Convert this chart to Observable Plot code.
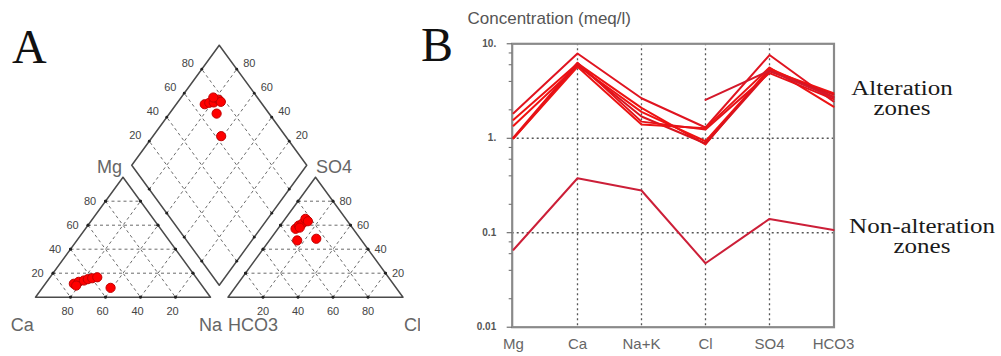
<!DOCTYPE html>
<html><head><meta charset="utf-8">
<script src="https://cdn.jsdelivr.net/npm/d3@7"></script>
<script src="https://cdn.jsdelivr.net/npm/@observablehq/plot@0.6"></script>
<style>
html,body{margin:0;padding:0;background:#fff;}
#wrap{position:relative;width:1001px;height:356px;overflow:hidden;font-family:Arial,"Liberation Sans",sans-serif;}
#pA{position:absolute;left:0;top:0;}
#pB{position:absolute;left:420px;top:0;}
.panel{position:absolute;font-family:"Liberation Serif","Times New Roman",serif;font-size:48px;line-height:48px;color:#111;}
.note{position:absolute;width:200px;text-align:center;font-family:"Liberation Serif","Times New Roman",serif;font-size:20px;line-height:20px;color:#1a1a1a;transform:scaleX(1.25);transform-origin:50% 0;white-space:nowrap;}
</style></head><body>
<div id="wrap">
  <div id="pA"></div>
  <div id="pB"></div>
  <div class="panel" style="left:12px;top:23px">A</div>
  <div class="panel" style="left:421px;top:21px">B</div>
  <div class="note" style="left:802px;top:77.5px">Alteration<br>zones</div>
  <div class="note" style="left:822px;top:216px">Non-alteration<br>zones</div>
</div>
<script>
// ---------- Panel A: Piper diagram data (percent of meq) ----------
const samples = ["S1","S2","S3","S4","S5","S6","S7","S8"];
const caPct   = [72.5, 68.9, 65.4, 62.6, 59.7, 56.4, 71.9, 53.2];
const mgPct   = [11.2, 12.8, 13.9, 15.0, 15.8, 16.6,  9.7,  7.8];
const naKPct  = [16.3, 18.3, 20.7, 22.4, 24.5, 27.0, 18.4, 39.0];
const hco3Pct = [32.9, 29.7, 27.0, 23.1, 22.7, 30.0, 25.2, 36.8];
const so4Pct  = [57.0, 59.7, 61.2, 65.3, 63.3, 58.0, 48.7, 47.3];
const clPct   = [10.1, 10.6, 11.8, 11.6, 14.0, 12.0, 26.1, 15.9];
const gridLevels = [20, 40, 60, 80];

// ---------- Panel B: Schoeller diagram data (meq/l) ----------
const ions = ["Mg","Ca","Na+K","Cl","SO4","HCO3"];
const alt1 = [1.84, 7.9, 2.65, 1.30, 7.6, 2.45];
const alt2 = [1.57, 6.2, 2.10, 0.86, 5.5, 2.76];
const alt3 = [1.36, 5.9, 1.90, 0.93, 5.3, 3.00];
const alt4 = [1.00, 6.0, 1.70, 0.88, 5.1, 2.90];
const alt5 = [1.00, 5.7, 1.40, 1.28, 5.6, 2.16];
const alt6 = [1.02, 6.3, 1.50, 1.24, 4.9, 2.60];
const alt7 = [null, null, null, 2.55, 5.2, 2.70];
const nonAlt = [0.066, 0.377, 0.28, 0.0475, 0.14, 0.107];
const seriesNames = ["alt1","alt2","alt3","alt4","alt5","alt6","alt7","nonAlt"];
const seriesValues = [alt1, alt2, alt3, alt4, alt5, alt6, alt7, nonAlt];
const seriesColors = ["#e01420","#ee1111","#f01212","#d8141e","#ec1414","#e61218","#d4182a","#cc1f38"];
const yTickValues = [0.01, 0.1, 1, 10];
const yTickLabels = ["0.01", "0.1", "1.", "10."];
const yMinorTicks = [0.02,0.04,0.06,0.08,0.2,0.4,0.6,0.8,2,4,6,8];
const gridIons = ["Ca","Na+K","Cl","SO4"];
const gridValues = [0.1, 1];
const yTitle = "Concentration (meq/l)";

// ---------- Piper geometry ----------
const SQ = Math.sqrt(3) / 2, GAP = 10;
const cat = (ca, mg, na) => ({x: na + mg / 2, y: mg * SQ});
const an  = (hco3, so4, cl) => ({x: 100 + GAP + cl + so4 / 2, y: so4 * SQ});
const dia = (a, c) => ({x: 100 + GAP / 2 + (a - c) / 2, y: SQ * (GAP + a + c)});

const outlines = [
  ...[[100,0,0],[0,0,100],[0,100,0],[100,0,0]].map(d => ({shape: "cat", ...cat(...d)})),
  ...[[100,0,0],[0,0,100],[0,100,0],[100,0,0]].map(d => ({shape: "an", ...an(...d)})),
  ...[[0,0],[100,0],[100,100],[0,100],[0,0]].map(d => ({shape: "dia", ...dia(...d)}))
];
const seg = (p, q) => ({x1: p.x, y1: p.y, x2: q.x, y2: q.y});
const links = [];
for (const v of gridLevels) {
  const w = 100 - v;
  links.push(seg(cat(w, v, 0), cat(0, v, w)));
  links.push(seg(cat(v, w, 0), cat(v, 0, w)));
  links.push(seg(cat(w, 0, v), cat(0, w, v)));
  links.push(seg(an(w, v, 0), an(0, v, w)));
  links.push(seg(an(v, w, 0), an(v, 0, w)));
  links.push(seg(an(w, 0, v), an(0, w, v)));
  links.push(seg(dia(v, 0), dia(v, 100)));
  links.push(seg(dia(0, v), dia(100, v)));
}
const edgeDots = links.flatMap(l => [{x: l.x1, y: l.y1}, {x: l.x2, y: l.y2}]);

const catPts = samples.map((s, i) => cat(caPct[i], mgPct[i], naKPct[i]));
const anPts  = samples.map((s, i) => an(hco3Pct[i], so4Pct[i], clPct[i]));
const diaPts = samples.map((s, i) => dia(so4Pct[i] + clPct[i], caPct[i] + mgPct[i]));
const allPts = [...catPts, ...anPts, ...diaPts];

const lab = (f) => gridLevels.map(v => ({...f(v), t: String(v)}));
const tickFont = {fontSize: 11, fill: "#444"};
const cornerFont = {fontSize: 18, fill: "#666"};

const plotA = Plot.plot({
  width: 420, height: 356, margin: 0,
  style: {fontFamily: "Arial, 'Liberation Sans', sans-serif", background: "transparent"},
  x: {domain: [0, 210], range: [35, 402.5], axis: null},
  y: {domain: [0, 100 * SQ], range: [296.7, 176.7], axis: null},
  marks: [
    Plot.link(links, {x1: "x1", y1: "y1", x2: "x2", y2: "y2", stroke: "#6a6a6a", strokeWidth: 1, strokeDasharray: "3,3"}),
    Plot.line(outlines, {x: "x", y: "y", z: "shape", stroke: "#4a4a4a", strokeWidth: 1.5}),
    Plot.dot(edgeDots, {x: "x", y: "y", r: 1.4, fill: "#222", stroke: null}),
    Plot.text(lab(v => cat(100 - v, v, 0)), {x: "x", y: "y", text: "t", dx: -15.5, ...tickFont}),
    Plot.text(lab(v => cat(v, 0, 100 - v)), {x: "x", y: "y", text: "t", dx: -3, dy: 14, ...tickFont}),
    Plot.text(lab(v => an(0, v, 100 - v)), {x: "x", y: "y", text: "t", dx: 12.5, ...tickFont}),
    Plot.text(lab(v => an(100 - v, 0, v)), {x: "x", y: "y", text: "t", dy: 14, ...tickFont}),
    Plot.text(lab(v => dia(v, 100)), {x: "x", y: "y", text: "t", dx: -14, dy: -6, ...tickFont}),
    Plot.text(lab(v => dia(100, v)), {x: "x", y: "y", text: "t", dx: 12.5, dy: -6, ...tickFont}),
    Plot.text([{...cat(100,0,0), t: "Ca"}], {x: "x", y: "y", text: "t", dx: -13.3, dy: 28.3, ...cornerFont}),
    Plot.text([{...cat(0,0,100), t: "Na"}], {x: "x", y: "y", text: "t", dy: 28.3, ...cornerFont}),
    Plot.text([{...an(100,0,0), t: "HCO3"}], {x: "x", y: "y", text: "t", dy: 28.3, textAnchor: "start", ...cornerFont}),
    Plot.text([{...an(0,0,100), t: "Cl"}], {x: "x", y: "y", text: "t", dx: 1, dy: 28.3, textAnchor: "start", ...cornerFont}),
    Plot.text([{...cat(0,100,0), t: "Mg"}], {x: "x", y: "y", text: "t", dx: -1, dy: -10, textAnchor: "end", ...cornerFont}),
    Plot.text([{...an(0,100,0), t: "SO4"}], {x: "x", y: "y", text: "t", dx: 0.5, dy: -10, textAnchor: "start", ...cornerFont}),
    Plot.dot(allPts, {x: "x", y: "y", r: 4.6, fill: "#ff0000", stroke: "#c00000", strokeWidth: 1})
  ]
});
document.getElementById("pA").append(plotA);

// ---------- Panel B ----------
const rows = seriesNames.flatMap((name, i) =>
  ions.map((ion, j) => ({series: name, ion, value: seriesValues[i][j], color: seriesColors[i]})));
const fmt = d => yTickLabels[yTickValues.indexOf(d)];

const plotB = Plot.plot({
  width: 581, height: 356,
  marginLeft: 91.7, marginRight: 167.5, marginTop: 43.3, marginBottom: 29.3,
  style: {fontFamily: "Arial, 'Liberation Sans', sans-serif", background: "transparent"},
  x: {type: "point", domain: ions, padding: 0, axis: null},
  y: {type: "log", domain: [0.01, 10], axis: null},
  color: {type: "identity"},
  marks: [
    Plot.ruleY(gridValues, {stroke: "#555", strokeWidth: 1.3, strokeDasharray: "2,3"}),
    Plot.ruleX(gridIons, {stroke: "#555", strokeWidth: 1.3, strokeDasharray: "2,3"}),
    Plot.frame({stroke: "#8a8a8a", strokeWidth: 2.2}),
    Plot.axisY(yMinorTicks, {tickSize: 3, tickFormat: () => "", label: null, color: "#666"}),
    Plot.axisY(yTickValues, {tickSize: 5, tickPadding: 11, tickFormat: fmt, label: null, fontSize: 10, fontWeight: "bold", color: "#555"}),
    Plot.line(rows, {x: "ion", y: "value", z: "series", stroke: "color", strokeWidth: 2}),
    Plot.text(ions, {x: d => d, frameAnchor: "bottom", dy: 16.5, lineAnchor: "middle", fontSize: 15, fill: "#666"}),
    Plot.text([yTitle], {frameAnchor: "top-left", dx: -44.7, dy: -25, lineAnchor: "middle", textAnchor: "start", fontSize: 17, fill: "#555"})
  ]
});
document.getElementById("pB").append(plotB);
</script>
</body></html>
